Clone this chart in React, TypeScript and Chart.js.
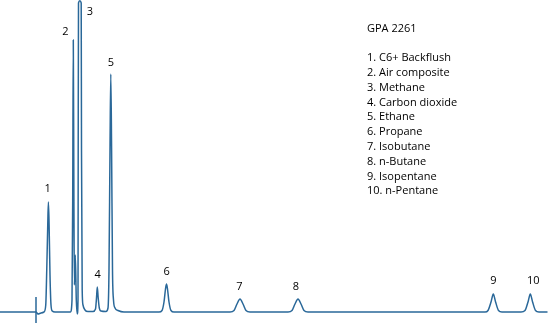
import React, { useEffect, useRef } from "react";
import { Chart, registerables } from "chart.js";

Chart.register(...registerables);

// Retention time (s) and detector signal (mV) of the chromatogram trace
const retentionTimes = [
  -72, -4, 0, 4, 10, 16, 19.5, 21.5, 23.5, 24.8, 26.2, 28, 30, 32.5, 38,
  69, 72, 73.4, 74.6, 75.8, 76.8, 78.6, 80.6, 82.6, 84, 84.4, 85, 87.6, 90.4, 91, 92.4, 94, 98, 104,
  114, 119, 121, 122.6, 124.4, 126.6, 130,
  140, 144, 146, 148, 149.6, 151.2, 153, 155, 158, 164, 176,
  246, 252, 256, 259, 261, 263, 266, 270, 276,
  388, 396, 402, 408, 414, 420, 428,
  504, 512, 518, 524, 530, 536, 544,
  898, 904, 910, 914.6, 919.2, 925, 932,
  970, 978, 984, 988.6, 993.2, 999, 1006, 1023,
];
const signalValues = [
  0, 0, 0, -0.2, -0.1, 0, 0.7, 4.2, 8.7, 11.0, 8.7, 3.7, 0.7, 0.1, 0,
  0, 1.2, 11.2, 27.2, 11.2, 2.7, 5.7, 1.2, -0.2, 1.2, 16.2, 30.9, 31.12, 30.9, 16.2, 2.2, 0.7, 0.2, 0.05,
  0.05, 0.3, 1.4, 2.5, 1.4, 0.4, 0.1,
  0.05, 0.4, 4.2, 16.2, 23.8, 16.2, 4.2, 1.2, 0.4, 0.15, 0,
  0, 0.15, 1.0, 2.3, 2.8, 2.3, 1.0, 0.15, 0,
  0, 0.15, 0.8, 1.3, 0.8, 0.15, 0,
  0, 0.15, 0.8, 1.3, 0.8, 0.15, 0,
  0, 0.15, 1.0, 1.8, 1.0, 0.15, 0,
  0, 0.15, 1.0, 1.8, 1.0, 0.15, 0, 0,
];

// Injection marker
const injectionTimes = [0, 0];
const injectionSignal = [1.5, -1.1];

// Peak number labels (anchor in data units)
const peakNumbers = ["1", "2", "3", "4", "5", "6", "7", "8", "9", "10"];
const peakLabelTimes = [23.4, 58.6, 108, 123.4, 150, 261.4, 406.6, 520, 914.6, 994.6];
const peakLabelSignals = [12.3, 28.0, 30.0, 3.7, 24.9, 4.0, 2.5, 2.5, 3.1, 3.1];

// Legend text
const legendTitle = "GPA 2261";
const compounds = [
  "C6+ Backflush",
  "Air composite",
  "Methane",
  "Carbon dioxide",
  "Ethane",
  "Propane",
  "Isobutane",
  "n-Butane",
  "Isopentane",
  "n-Pentane",
];

const LINE_COLOR = "#2a6899";
const TEXT_COLOR = "#000000";
const FONT = "11px 'Open Sans', sans-serif";

const textPlugin = {
  id: "chromText",
  afterDatasetsDraw(chart: any) {
    const ctx = chart.ctx;
    const xs = chart.scales.x;
    const ys = chart.scales.y;
    ctx.save();
    ctx.fillStyle = TEXT_COLOR;
    ctx.font = FONT;
    ctx.textAlign = "center";
    ctx.textBaseline = "middle";
    peakNumbers.forEach((n, i) => {
      ctx.fillText(n, xs.getPixelForValue(peakLabelTimes[i]), ys.getPixelForValue(peakLabelSignals[i]));
    });
    ctx.textAlign = "left";
    const left = chart.chartArea.left + 367;
    const top = chart.chartArea.top;
    ctx.fillText(legendTitle, left, top + 29);
    compounds.forEach((c, i) => {
      ctx.fillText(`${i + 1}. ${c}`, left, top + 58 + i * 14.8);
    });
    ctx.restore();
  },
};

export default function App() {
  const canvasRef = useRef<HTMLCanvasElement | null>(null);

  useEffect(() => {
    document.body.style.margin = "0";
    const canvas = canvasRef.current;
    if (!canvas) return;
    const trace = retentionTimes.map((t, i) => ({ x: t, y: signalValues[i] }));
    const injection = injectionTimes.map((t, i) => ({ x: t, y: injectionSignal[i] }));
    const chart = new Chart(canvas, {
      type: "line",
      data: {
        datasets: [
          {
            data: trace,
            borderColor: LINE_COLOR,
            borderWidth: 1.5,
            pointRadius: 0,
            cubicInterpolationMode: "monotone",
            fill: false,
          },
          {
            data: injection,
            borderColor: LINE_COLOR,
            borderWidth: 1.5,
            pointRadius: 0,
            tension: 0,
            fill: false,
          },
        ],
      },
      options: {
        animation: false,
        responsive: true,
        maintainAspectRatio: false,
        layout: { padding: 0 },
        plugins: { legend: { display: false }, tooltip: { enabled: false }, title: { display: false } },
        scales: {
          x: { type: "linear", min: -72, max: 1034, display: false },
          y: { type: "linear", min: -1.3, max: 31.2, display: false },
        },
      },
      plugins: [textPlugin],
    });
    return () => chart.destroy();
  }, []);

  return (
    <div style={{ position: "absolute", left: 0, top: 0, width: 553, height: 325, background: "#fff" }}>
      <canvas ref={canvasRef} />
    </div>
  );
}
